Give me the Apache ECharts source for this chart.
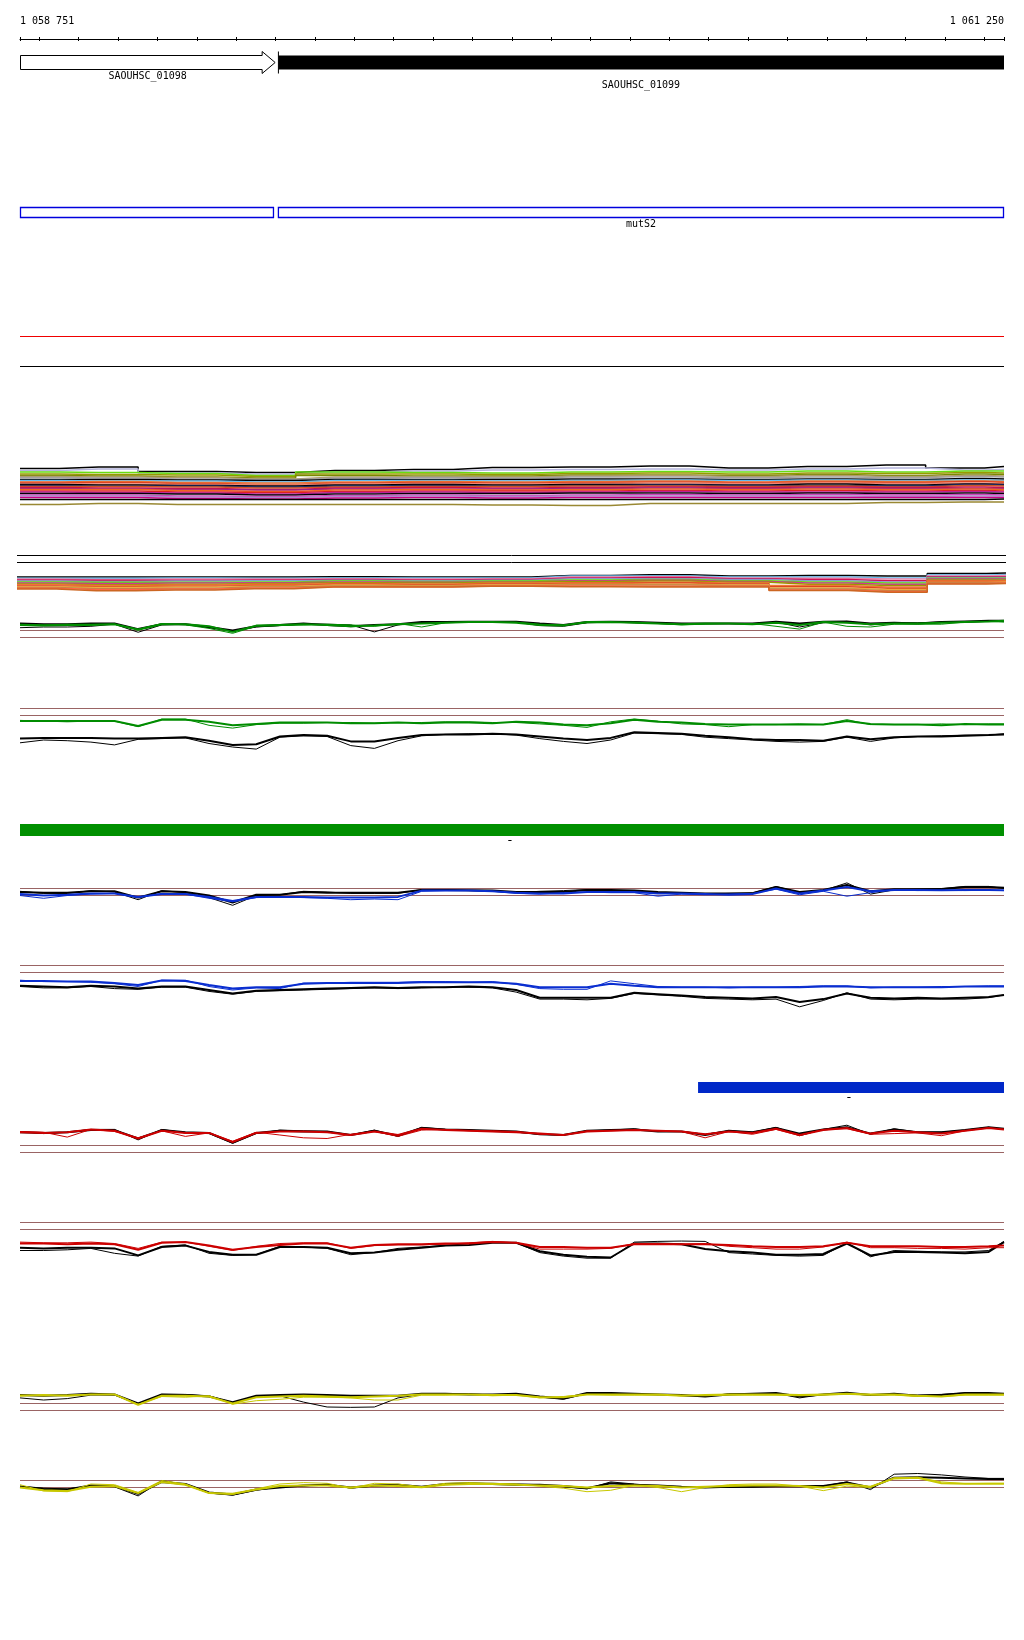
<!DOCTYPE html>
<html><head><meta charset="utf-8">
<script src="https://cdn.jsdelivr.net/npm/echarts@6/dist/echarts.min.js"></script>
<style>html,body{margin:0;padding:0;background:#fff}#c{width:1024px;height:1640px}</style>
</head><body><div id="c"></div>
<script>
// ---------------- data ----------------
const START = 1058751, END = 1061250;
const tickValues = [1058751,1058800,1058900,1059000,1059100,1059200,1059300,1059400,1059500,1059600,1059700,1059800,1059900,1060000,1060100,1060200,1060300,1060400,1060500,1060600,1060700,1060800,1060900,1061000,1061100,1061200,1061250];
const edgeLabels = [1058751, 1061250];

const geneNames = ['SAOUHSC_01098', 'SAOUHSC_01099'];
const geneStarts = [1058751, 1059406];
const geneEnds = [1059399, 1061250];
const geneStrands = [1, -1];

const cdsNames = ['', 'mutS2'];
const cdsStarts = [1058751, 1059406];
const cdsEnds = [1059396, 1061250];

const tuLabels = ['-', '-'];
const tuStarts = [1058751, 1060473];
const tuEnds = [1061250, 1061250];

const pos = [1058751,1058811,1058871,1058931,1058991,1059051,1059111,1059171,1059231,1059291,1059351,1059411,1059471,1059531,1059591,1059651,1059711,1059771,1059831,1059891,1059951,1060011,1060071,1060131,1060191,1060251,1060311,1060371,1060431,1060491,1060551,1060611,1060671,1060731,1060791,1060851,1060911,1060971,1061031,1061091,1061151,1061211,1061250];
const posBundle = [1058751,1058951,1059151,1059351,1059551,1059751,1059951,1060151,1060351,1060551,1060751,1060951,1061151,1061250];

const refLevels = [0, 1];
const topRedLevel = 8, topBlackLevel = 2;
const sepLevels = [10, 8.25];

// bundle 1 (all conditions, upper)
const bundle1Colors = ['#000000','#b4b4dc','#66dd11','#999900','#7a8a00','#b09a66','#a0a0a0','#000000','#66bbee','#ee7733','#dd4422','#ee8877','#000000','#1a2a66','#cc5522','#cc1144','#992288','#ee6622','#dd2222','#bb2299','#000000','#cc44bb','#aa88cc','#cc0088','#000000','#998833'];
const bundle1 = [
 [7.7,8.0,7.1,6.9,7.3,7.5,7.9,8.0,8.2,7.8,8.1,8.4,7.8,8.1],
 [7.3,7.6,6.8,6.6,7.0,7.2,7.4,7.5,7.6,7.4,7.6,7.8,7.4,7.5],
 [7.0,6.9,6.7,6.3,7.0,6.9,6.8,7.0,7.1,7.0,7.2,7.0,7.2,7.2],
 [6.6,6.5,6.4,6.1,6.6,6.6,6.5,6.7,6.8,6.6,6.8,6.7,6.9,6.8],
 [6.3,6.2,6.0,5.8,6.3,6.2,6.2,6.4,6.4,6.3,6.5,6.3,6.6,6.5],
 [6.1,6.0,5.9,5.6,6.0,6.0,6.0,6.2,6.3,6.1,6.3,6.1,6.3,6.2],
 [5.9,5.8,5.6,5.5,5.8,5.9,5.8,6.0,6.0,5.9,6.0,5.9,6.1,6.0],
 [5.5,5.5,5.4,5.3,5.5,5.5,5.5,5.6,5.6,5.5,5.6,5.5,5.7,5.6],
 [5.3,5.2,5.2,5.0,5.3,5.3,5.2,5.3,5.4,5.3,5.4,5.3,5.4,5.3],
 [5.0,5.1,4.9,4.8,5.0,5.1,5.0,5.1,5.2,5.0,5.2,5.1,5.2,5.1],
 [4.9,4.9,4.7,4.5,4.8,4.9,4.8,4.9,5.0,4.9,5.0,4.9,5.1,4.9],
 [4.7,4.6,4.5,4.4,4.6,4.7,4.6,4.7,4.8,4.7,4.8,4.7,4.8,4.7],
 [4.5,4.4,4.3,4.2,4.4,4.5,4.4,4.5,4.5,4.4,4.6,4.4,4.6,4.5],
 [4.3,4.2,4.2,4.0,4.2,4.3,4.2,4.3,4.4,4.3,4.3,4.2,4.5,4.4],
 [4.1,4.1,4.0,3.8,4.0,4.1,4.1,4.2,4.2,4.1,4.2,4.0,4.3,4.2],
 [3.9,3.8,3.7,3.5,3.8,3.9,3.8,3.9,4.0,3.9,4.0,3.9,4.0,3.9],
 [3.7,3.6,3.5,3.4,3.6,3.6,3.6,3.7,3.8,3.7,3.8,3.7,3.7,3.7],
 [3.5,3.5,3.3,3.1,3.4,3.5,3.4,3.5,3.6,3.5,3.6,3.5,3.6,3.5],
 [3.2,3.2,3.0,2.9,3.1,3.2,3.2,3.2,3.3,3.2,3.3,3.2,3.3,3.2],
 [3.0,2.9,2.8,2.6,2.9,3.0,2.9,3.0,3.1,3.0,3.0,3.0,3.1,3.0],
 [2.7,2.7,2.6,2.4,2.6,2.7,2.7,2.8,2.8,2.7,2.8,2.7,2.8,2.7],
 [2.4,2.4,2.2,2.1,2.3,2.4,2.3,2.4,2.5,2.4,2.5,2.4,2.5,2.4],
 [2.2,2.2,2.0,1.9,2.1,2.2,2.1,2.2,2.2,2.2,2.2,2.1,2.2,2.2],
 [1.9,1.9,1.7,1.6,1.8,1.9,1.8,1.9,1.9,1.9,1.9,1.9,1.9,1.9],
 [1.5,1.5,1.5,1.5,1.5,1.5,1.5,1.5,1.5,1.5,1.5,1.5,1.5,1.6],
 [0.5,0.7,0.5,0.5,0.5,0.5,0.4,0.3,0.7,0.7,0.7,0.9,1.0,1.0]
];

// bundle 2 (all conditions, lower)
const bundle2Colors = ['#000000','#66bbee','#ee88aa','#cc1155','#8899cc','#66dd11','#cc3399','#999900','#ee7733','#dd4422','#eeaa44','#bb8844','#ff6644','#cc6622'];
const bundle2 = [
 [4.6,4.6,4.6,4.6,4.7,4.6,4.6,5.0,5.2,4.9,5.0,4.9,5.5,5.6],
 [4.3,4.3,4.4,4.3,4.4,4.4,4.4,4.9,4.9,4.6,4.6,4.4,5.1,5.2],
 [4.1,4.0,4.1,4.1,4.2,4.1,4.2,4.6,4.7,4.4,4.3,4.1,4.9,5.0],
 [3.9,3.8,3.8,3.9,4.0,3.9,4.0,4.4,4.5,4.2,4.0,3.7,4.7,4.7],
 [3.6,3.5,3.6,3.7,3.8,3.7,3.8,4.2,4.2,4.0,3.7,3.4,4.5,4.5],
 [3.4,3.3,3.3,3.4,3.6,3.5,3.6,3.9,4.0,3.7,3.4,3.1,4.3,4.3],
 [3.1,3.0,3.1,3.2,3.4,3.3,3.4,3.7,3.8,3.5,3.1,2.8,4.1,4.1],
 [2.9,2.7,2.8,3.0,3.2,3.1,3.3,3.5,3.6,3.3,2.8,2.5,3.9,3.9],
 [2.7,2.5,2.6,2.8,3.0,2.9,3.1,3.2,3.3,3.1,2.5,2.1,3.7,3.7],
 [2.4,2.2,2.3,2.5,2.8,2.7,2.9,3.0,3.1,2.9,2.2,1.8,3.5,3.5],
 [2.2,2.0,2.1,2.3,2.6,2.5,2.7,2.8,2.8,2.7,1.9,1.5,3.3,3.4],
 [2.0,1.7,1.8,2.1,2.4,2.3,2.5,2.6,2.6,2.5,1.6,1.2,3.2,3.2],
 [1.8,1.5,1.6,1.9,2.2,2.2,2.4,2.4,2.3,2.3,1.4,1.0,3.0,3.1],
 [1.6,1.2,1.4,1.7,2.1,2.1,2.3,2.2,2.1,2.1,1.25,0.8,2.9,3.0]
];

// green condition, upper strand
const p4BlackMean = [2.0,1.9,1.9,2.0,2.0,1.2,1.9,1.9,1.5,1.0,1.6,1.8,2.0,1.8,1.6,1.8,1.9,2.2,2.2,2.25,2.25,2.25,2.0,1.8,2.2,2.25,2.2,2.1,2.0,2.0,2.0,2.0,2.25,2.0,2.25,2.3,2.0,2.1,2.0,2.2,2.3,2.4,2.4];
const p4BlackRep = [1.4,1.5,1.5,1.6,1.9,0.75,1.8,1.9,1.4,0.9,1.5,1.7,1.9,1.9,1.8,0.8,1.8,2.1,2.2,2.2,2.2,2.2,1.7,1.6,2.1,2.2,2.1,2.0,1.9,2.0,2.0,1.9,2.2,1.5,2.1,2.3,1.8,2.1,2.1,2.2,2.2,2.3,2.3];
const p4ColorMean = [1.8,1.7,1.8,1.8,1.9,1.1,1.9,1.9,1.6,0.8,1.7,1.8,1.9,1.8,1.6,1.7,1.9,2.0,2.1,2.2,2.2,2.1,1.8,1.7,2.2,2.2,2.1,2.0,1.9,2.0,2.0,1.9,2.1,1.8,2.2,2.1,1.9,2.0,2.0,2.1,2.2,2.3,2.4];
const p4ColorRep = [1.9,1.8,1.9,1.9,1.9,1.2,2.0,1.8,1.3,0.6,1.6,1.7,1.8,1.9,1.8,1.6,2.0,1.5,2.1,2.2,2.2,2.2,1.9,1.8,2.1,2.1,2.2,2.0,1.8,1.9,2.0,2.0,1.6,1.2,2.2,1.6,1.5,1.9,1.9,1.9,2.2,2.3,2.2];
// green condition, lower strand
const p5ColorMean = [1.8,1.8,1.8,1.8,1.8,2.5,1.6,1.6,1.9,2.4,2.2,2.0,2.0,2.0,2.1,2.1,2.0,2.1,2.0,2.0,2.1,1.9,2.0,2.3,2.4,2.1,1.6,1.9,2.0,2.2,2.3,2.3,2.3,2.3,2.3,1.8,2.2,2.3,2.3,2.4,2.2,2.3,2.3];
const p5ColorRep = [1.7,1.8,1.9,1.8,1.8,2.6,1.5,1.5,2.4,2.8,2.3,2.1,2.1,2.0,2.0,2.1,2.0,2.0,1.9,1.9,2.0,2.0,2.2,2.4,2.7,1.9,1.5,1.8,2.2,2.3,2.6,2.3,2.3,2.2,2.3,1.6,2.3,2.3,2.3,2.2,2.3,2.2,2.2];
const p5BlackMean = [4.3,4.2,4.2,4.2,4.3,4.3,4.2,4.1,4.6,5.2,5.1,4.0,3.8,3.9,4.7,4.7,4.2,3.8,3.7,3.7,3.6,3.7,4.0,4.3,4.5,4.2,3.4,3.5,3.6,3.9,4.1,4.4,4.5,4.5,4.6,4.0,4.4,4.1,4.0,4.0,3.9,3.8,3.7];
const p5BlackRep = [4.9,4.5,4.6,4.8,5.2,4.4,4.3,4.2,5.0,5.5,5.8,4.1,3.9,4.0,5.3,5.7,4.6,3.9,3.7,3.6,3.6,3.8,4.3,4.7,5.0,4.5,3.5,3.6,3.7,4.1,4.3,4.5,4.7,4.8,4.7,4.1,4.7,4.2,4.0,3.9,3.8,3.8,3.6];
// blue condition, upper strand
const p7BlackMean = [0.5,0.4,0.4,0.6,0.6,-0.3,0.6,0.5,0.0,-1.0,0.1,0.1,0.5,0.4,0.4,0.4,0.4,0.8,0.8,0.75,0.7,0.5,0.5,0.5,0.8,0.8,0.7,0.5,0.4,0.3,0.3,0.3,1.2,0.5,0.8,1.5,0.6,0.9,0.9,0.9,1.2,1.2,1.1];
const p7BlackRep = [0.6,0.3,0.3,0.7,0.5,-0.6,0.7,0.4,-0.3,-1.4,0.0,0.1,0.6,0.5,0.3,0.3,0.3,0.85,0.8,0.7,0.6,0.4,0.6,0.7,0.85,0.75,0.6,0.4,0.3,0.2,0.3,0.4,1.3,0.4,0.7,1.8,0.2,0.8,0.9,1.0,1.3,1.3,1.0];
const p7ColorMean = [0.2,0.0,0.1,0.3,0.3,-0.2,0.2,0.2,-0.2,-0.8,-0.2,-0.2,-0.2,-0.3,-0.3,-0.3,-0.2,0.7,0.7,0.7,0.6,0.4,0.3,0.3,0.5,0.5,0.5,0.3,0.3,0.2,0.1,0.2,1.0,0.3,0.7,1.2,0.6,0.8,0.8,0.75,0.8,0.8,0.75];
const p7ColorRep = [0.0,-0.4,0.0,0.2,0.3,-0.3,0.3,0.2,-0.4,-0.9,-0.3,-0.2,-0.3,-0.4,-0.6,-0.5,-0.6,0.6,0.7,0.7,0.6,0.3,0.2,0.4,0.5,0.4,0.4,-0.1,0.2,0.1,0.2,0.3,0.9,0.1,0.6,-0.1,0.4,0.8,0.7,0.75,0.7,0.75,0.7];
// blue condition, lower strand
const p8ColorMean = [2.2,2.2,2.3,2.3,2.5,2.8,2.15,2.2,2.8,3.3,3.1,3.1,2.6,2.5,2.5,2.5,2.5,2.4,2.4,2.4,2.4,2.6,3.1,3.1,3.1,2.6,2.9,3.1,3.1,3.1,3.1,3.1,3.1,3.1,3.0,3.0,3.1,3.1,3.1,3.1,3.0,3.0,3.0];
const p8ColorRep = [2.1,2.3,2.3,2.4,2.6,3.0,2.1,2.1,3.0,3.5,3.2,3.3,2.5,2.5,2.4,2.4,2.4,2.3,2.3,2.4,2.3,2.7,3.3,3.4,3.4,2.2,2.6,3.0,3.1,3.1,3.2,3.1,3.1,3.0,2.9,2.9,3.2,3.1,3.1,3.0,3.0,2.9,2.9];
const p8BlackMean = [2.9,3.0,3.1,2.9,3.0,3.3,3.0,3.0,3.5,4.0,3.6,3.5,3.4,3.3,3.2,3.1,3.2,3.1,3.1,3.0,3.1,3.5,4.6,4.6,4.6,4.6,3.9,4.1,4.3,4.5,4.6,4.7,4.5,5.2,4.8,4.0,4.6,4.7,4.6,4.7,4.6,4.5,4.2];
const p8BlackRep = [3.0,3.2,3.2,3.0,3.3,3.4,3.1,3.1,3.7,4.1,3.7,3.6,3.5,3.4,3.3,3.2,3.3,3.2,3.1,3.1,3.2,3.8,4.8,4.8,4.9,4.7,4.0,4.2,4.4,4.7,4.8,4.9,4.8,5.9,5.0,3.9,4.8,4.9,4.8,4.8,4.8,4.6,4.2];
// red condition, upper strand
const p10BlackMean = [2.9,2.8,2.9,3.2,3.2,2.0,3.2,2.9,2.8,1.4,2.8,3.1,3.0,3.0,2.5,3.1,2.4,3.5,3.3,3.2,3.1,3.0,2.6,2.5,3.1,3.2,3.3,3.0,3.0,2.5,3.1,2.9,3.5,2.7,3.3,3.6,2.7,3.3,2.9,2.9,3.2,3.6,3.4];
const p10BlackRep = [3.0,2.7,2.9,3.3,3.3,1.8,3.3,2.8,2.7,1.3,2.7,3.2,3.1,3.0,2.5,3.2,2.3,3.6,3.3,3.2,3.0,2.9,2.6,2.5,3.1,3.2,3.4,3.0,3.0,2.6,3.1,2.9,3.6,2.4,3.3,3.9,2.6,3.4,2.9,2.9,3.2,3.6,3.3];
const p10ColorMean = [2.9,2.8,2.9,3.3,3.1,2.0,3.1,2.8,2.8,1.5,2.8,3.0,3.0,2.9,2.5,3.0,2.5,3.4,3.2,3.1,3.0,2.9,2.7,2.5,3.0,3.1,3.2,3.1,3.0,2.6,3.0,2.8,3.4,2.5,3.2,3.5,2.7,3.1,2.9,2.7,3.1,3.5,3.3];
const p10ColorRep = [3.0,2.9,2.2,3.3,3.0,2.1,3.1,2.3,2.8,1.6,2.9,2.5,2.1,2.0,2.6,3.0,2.3,3.2,3.3,3.1,3.1,3.0,2.6,2.5,3.1,3.1,3.2,3.1,3.0,2.1,3.0,2.6,3.3,2.4,3.3,3.4,2.6,2.7,2.8,2.4,3.1,3.5,3.3];
// red condition, lower strand
const p11ColorMean = [3.0,3.0,3.1,3.0,3.1,3.9,2.9,2.8,3.3,3.9,3.5,3.2,3.0,3.0,3.6,3.2,3.1,3.1,3.0,3.0,2.8,2.9,3.5,3.5,3.6,3.6,3.1,3.1,3.1,3.1,3.2,3.4,3.5,3.5,3.4,2.9,3.4,3.4,3.4,3.5,3.5,3.4,3.3];
const p11ColorRep = [2.8,2.9,2.9,2.8,3.0,3.7,2.8,2.8,3.4,4.0,3.4,3.0,2.9,2.9,3.7,3.3,3.2,3.2,3.1,2.9,2.7,2.9,3.8,3.8,3.8,3.7,3.0,3.0,3.1,3.0,3.4,3.6,3.8,3.8,3.5,2.8,3.6,3.6,3.7,3.7,3.8,3.6,3.6];
const p11BlackMean = [3.6,3.7,3.6,3.6,3.7,4.7,3.5,3.3,4.2,4.6,4.6,3.5,3.5,3.6,4.4,4.3,3.9,3.6,3.3,3.2,2.9,2.9,4.1,4.6,4.9,5.0,3.0,3.0,3.1,3.8,4.1,4.3,4.6,4.6,4.5,3.0,4.7,4.2,4.2,4.3,4.4,4.2,2.8];
const p11BlackRep = [4.0,4.0,3.9,3.7,4.4,4.8,3.4,3.2,4.4,4.7,4.6,3.4,3.5,3.7,4.6,4.3,3.7,3.5,3.3,3.0,2.8,2.9,4.3,4.8,5.1,5.1,2.8,2.7,2.65,2.7,4.3,4.5,4.7,4.8,4.7,2.9,4.9,4.0,4.1,4.2,4.2,4.0,2.7];
// yellow condition, upper strand
const p12BlackMean = [2.2,2.1,2.2,2.4,2.3,1.0,2.3,2.2,2.0,1.2,2.1,2.2,2.3,2.2,2.1,2.1,2.1,2.4,2.4,2.3,2.3,2.4,2.0,1.7,2.5,2.5,2.4,2.3,2.2,2.0,2.3,2.4,2.5,2.0,2.3,2.55,2.2,2.4,2.1,2.2,2.5,2.5,2.4];
const p12BlackRep = [1.8,1.5,1.7,2.2,2.2,0.9,2.3,2.3,2.1,1.1,2.0,2.1,1.2,0.5,0.45,0.5,1.8,2.3,2.4,2.4,2.2,2.3,1.9,1.6,2.4,2.5,2.3,2.3,2.1,2.0,2.4,2.4,2.45,1.8,2.3,2.4,2.2,2.3,2.2,2.3,2.5,2.4,2.4];
const p12ColorMean = [2.1,2.2,2.1,2.3,2.3,0.8,2.1,2.1,2.0,1.0,1.9,2.0,2.1,2.0,1.9,2.0,2.1,2.3,2.3,2.3,2.2,2.2,1.9,1.9,2.3,2.3,2.3,2.3,2.1,2.2,2.3,2.3,2.3,2.2,2.3,2.4,2.3,2.3,2.1,2.0,2.3,2.3,2.3];
const p12ColorRep = [2.2,2.1,2.2,2.3,2.3,0.9,2.0,1.9,2.1,0.9,1.4,1.6,1.9,1.9,1.8,1.5,1.5,2.2,2.2,2.3,2.1,2.2,1.8,2.0,2.3,2.2,2.2,2.2,2.2,2.1,2.2,2.2,2.2,2.1,2.2,2.3,2.2,2.2,2.0,2.0,2.2,2.2,2.2];
// yellow condition, lower strand
const p13BlackMean = [0.9,1.2,1.3,0.7,0.8,1.9,0.2,0.5,1.7,2.0,1.3,1.0,0.7,0.6,1.0,0.7,0.6,0.9,0.5,0.4,0.5,0.6,0.6,0.8,1.1,0.4,0.6,0.7,0.9,1.0,0.9,0.9,0.8,0.8,0.8,0.3,1.0,-0.4,-0.45,-0.4,-0.3,-0.2,-0.2];
const p13BlackRep = [0.8,1.1,1.2,0.8,0.9,2.2,0.0,0.6,1.8,2.1,1.4,0.9,0.8,0.5,1.1,0.8,0.7,0.9,0.6,0.5,0.4,0.5,0.6,0.9,1.2,0.2,0.5,0.8,1.0,1.0,1.0,0.9,0.9,0.9,0.8,0.2,1.3,-0.9,-1.0,-0.8,-0.5,-0.3,-0.3];
const p13ColorMean = [1.0,1.4,1.5,0.9,0.8,1.8,0.2,0.6,1.8,1.9,1.3,0.8,0.7,0.7,1.0,0.7,0.8,0.95,0.6,0.5,0.5,0.6,0.7,0.8,1.0,0.8,0.7,0.8,1.0,0.9,0.8,0.7,0.7,0.8,1.0,0.5,0.9,-0.3,-0.4,0.4,0.45,0.45,0.45];
const p13ColorRep = [0.6,1.5,1.6,0.5,0.6,1.7,0.0,0.5,1.8,2.0,1.2,0.5,0.3,0.4,1.1,0.4,0.5,0.9,0.4,0.3,0.4,0.5,0.8,1.1,1.6,1.4,0.7,1.0,1.6,1.0,0.6,0.5,0.5,0.8,1.45,0.8,1.0,-0.4,-0.45,0.2,0.45,0.4,0.4];

// ---------------- build ----------------
const FONT = 'DejaVu Sans Mono';
const BROWN = '#9a6464';
const grids = [], xAxes = [], yAxes = [], series = [];
const fmt = v => String(v).replace(/\B(?=(\d{3})+(?!\d))/g, ' ');

// top ruler
grids.push({left: 20, width: 984, top: 38, height: 1});
xAxes.push({type: 'value', gridIndex: 0, position: 'top', min: START, max: END,
  axisLine: {show: true, lineStyle: {color: '#000', width: 1}},
  axisTick: {show: true, customValues: tickValues, length: 2, lineStyle: {color: '#000'}},
  axisLabel: {show: true, customValues: edgeLabels, formatter: fmt, alignMinLabel: 'left', alignMaxLabel: 'right',
    margin: 12, fontFamily: FONT, fontSize: 10, color: '#000'},
  splitLine: {show: false}});
xAxes.push({type: 'value', gridIndex: 0, position: 'bottom', min: START, max: END,
  axisLine: {show: false},
  axisTick: {show: true, customValues: tickValues, length: 2, lineStyle: {color: '#000'}},
  axisLabel: {show: false}, splitLine: {show: false}});
yAxes.push({type: 'value', gridIndex: 0, show: false, min: 0, max: 1});

function addGrid(top, height, ymin, ymax, inverse, left, width) {
  grids.push({left: left == null ? 20 : left, width: width == null ? 984 : width, top, height});
  const g = grids.length - 1;
  xAxes.push({type: 'value', gridIndex: g, min: START, max: END, show: false});
  yAxes.push({type: 'value', gridIndex: g, min: ymin, max: ymax, inverse: !!inverse, show: false});
  return {xi: xAxes.length - 1, yi: yAxes.length - 1};
}
function addLine(ax, xs, vals, color, width, step) {
  series.push({type: 'line', xAxisIndex: ax.xi, yAxisIndex: ax.yi, silent: true, animation: false,
    data: xs.map((p, i) => [p, vals[i]]), symbol: 'none', showSymbol: false, step: step || false,
    lineStyle: {color, width}, itemStyle: {color}});
}
function addLevel(ax, level, color) {
  addLine(ax, [START, END], [level, level], color, 1);
}

// genes
const axG = addGrid(51.5, 22, 0, 1);
series.push({type: 'custom', xAxisIndex: axG.xi, yAxisIndex: axG.yi, silent: true, animation: false,
  data: geneStarts.map((s, i) => [s, geneEnds[i], geneStrands[i]]),
  encode: {x: [0, 1]},
  renderItem: (params, api) => {
    const i = params.dataIndex;
    const a = api.coord([api.value(0), 0.5]), b = api.coord([api.value(1), 0.5]);
    const cy = a[1], x0 = a[0] + 0.5, x1 = b[0];
    const kids = [];
    if (api.value(2) > 0) {
      const hx = x1 - 13;
      kids.push({type: 'polygon', shape: {points: [[x0, cy - 7], [hx, cy - 7], [hx, cy - 11], [x1, cy], [hx, cy + 11], [hx, cy + 7], [x0, cy + 7]]},
        style: {fill: '#fff', stroke: '#000', lineWidth: 1}});
    } else {
      kids.push({type: 'rect', shape: {x: x0, y: cy - 7, width: x1 - x0, height: 14}, style: {fill: '#000'}});
      kids.push({type: 'line', shape: {x1: x0, y1: cy - 11, x2: x0, y2: cy + 11}, style: {stroke: '#000', lineWidth: 1}});
    }
    kids.push({type: 'text', style: {text: geneNames[i], x: (a[0] + b[0]) / 2, y: cy + 14 + (i % 2) * 9,
      align: 'center', verticalAlign: 'middle', fontFamily: FONT, fontSize: 10, fill: '#000'}});
    return {type: 'group', children: kids};
  }});

// CDS boxes
const axC = addGrid(207.5, 10, 0, 1);
series.push({type: 'custom', xAxisIndex: axC.xi, yAxisIndex: axC.yi, silent: true, animation: false,
  data: cdsStarts.map((s, i) => [s, cdsEnds[i]]),
  encode: {x: [0, 1]},
  renderItem: (params, api) => {
    const i = params.dataIndex;
    const a = api.coord([api.value(0), 1]), b = api.coord([api.value(1), 0]);
    const kids = [{type: 'rect', shape: {x: a[0] + 0.5, y: a[1], width: b[0] - a[0] - 1, height: b[1] - a[1]},
      style: {fill: '#fff', stroke: '#0000dd', lineWidth: 1.3}}];
    if (cdsNames[i]) kids.push({type: 'text', style: {text: cdsNames[i], x: (a[0] + b[0]) / 2, y: b[1] + 7,
      align: 'center', verticalAlign: 'middle', fontFamily: FONT, fontSize: 10, fill: '#000'}});
    return {type: 'group', children: kids};
  }});

// red / black reference lines
const axP1 = addGrid(326.5, 50, 0, 10);
addLevel(axP1, topRedLevel, '#f00000');
addLevel(axP1, topBlackLevel, '#000000');

// bundle 1
const axB1 = addGrid(460, 50, -0.6, 9.4);
bundle1.forEach((vals, k) => addLine(axB1, posBundle, vals, bundle1Colors[k], 1.5, 'middle'));

// bundle 2 + separators
const axB2 = addGrid(550.5, 45, 0, 11.25, false, 17, 989);
sepLevels.forEach(l => addLevel(axB2, l, '#000000'));
bundle2.forEach((vals, k) => addLine(axB2, posBundle, vals, bundle2Colors[k], 1.5, 'middle'));

function strandPanel(refY, lower, color, bMean, bRep, cMean, cRep) {
  const top = lower ? refY - 21 : refY - 63;
  const ax = addGrid(top, 84, -3, 9, lower);
  refLevels.forEach(l => addLevel(ax, l, BROWN));
  addLine(ax, pos, bRep, '#000', 1);
  addLine(ax, pos, bMean, '#000', 2);
  addLine(ax, pos, cRep, color, 1);
  addLine(ax, pos, cMean, color, 2);
}
function tuBar(top, height, k, color) {
  const ax = addGrid(top, height, 0, 1);
  series.push({type: 'custom', xAxisIndex: ax.xi, yAxisIndex: ax.yi, silent: true, animation: false,
    data: [[tuStarts[k], tuEnds[k]]], encode: {x: [0, 1]},
    renderItem: (params, api) => {
      const a = api.coord([api.value(0), 1]), b = api.coord([api.value(1), 0]);
      return {type: 'group', children: [
        {type: 'rect', shape: {x: a[0], y: a[1], width: b[0] - a[0], height: b[1] - a[1]}, style: {fill: color}},
        {type: 'text', style: {text: tuLabels[k], x: (a[0] + b[0]) / 2 - 2, y: b[1] + 5, align: 'center', verticalAlign: 'middle',
          fontFamily: FONT, fontSize: 13, fill: '#000'}}]};
    }});
}

const GREEN = '#008c00', BLUE = '#0a2ed0', RED = '#cc0000', YELLOW = '#c8c800';
strandPanel(637.5, false, GREEN, p4BlackMean, p4BlackRep, p4ColorMean, p4ColorRep);
strandPanel(708.5, true, GREEN, p5BlackMean, p5BlackRep, p5ColorMean, p5ColorRep);
tuBar(824, 12, 0, '#009000');
strandPanel(895.5, false, BLUE, p7BlackMean, p7BlackRep, p7ColorMean, p7ColorRep);
strandPanel(965.5, true, BLUE, p8BlackMean, p8BlackRep, p8ColorMean, p8ColorRep);
tuBar(1082, 11, 1, '#0028c8');
strandPanel(1152.5, false, RED, p10BlackMean, p10BlackRep, p10ColorMean, p10ColorRep);
strandPanel(1222.5, true, RED, p11BlackMean, p11BlackRep, p11ColorMean, p11ColorRep);
strandPanel(1410.5, false, YELLOW, p12BlackMean, p12BlackRep, p12ColorMean, p12ColorRep);
strandPanel(1480.5, true, YELLOW, p13BlackMean, p13BlackRep, p13ColorMean, p13ColorRep);

const chart = echarts.init(document.getElementById('c'), null, {renderer: 'canvas'});
chart.setOption({backgroundColor: '#fff', animation: false, grid: grids, xAxis: xAxes, yAxis: yAxes, series});
</script>
</body></html>
